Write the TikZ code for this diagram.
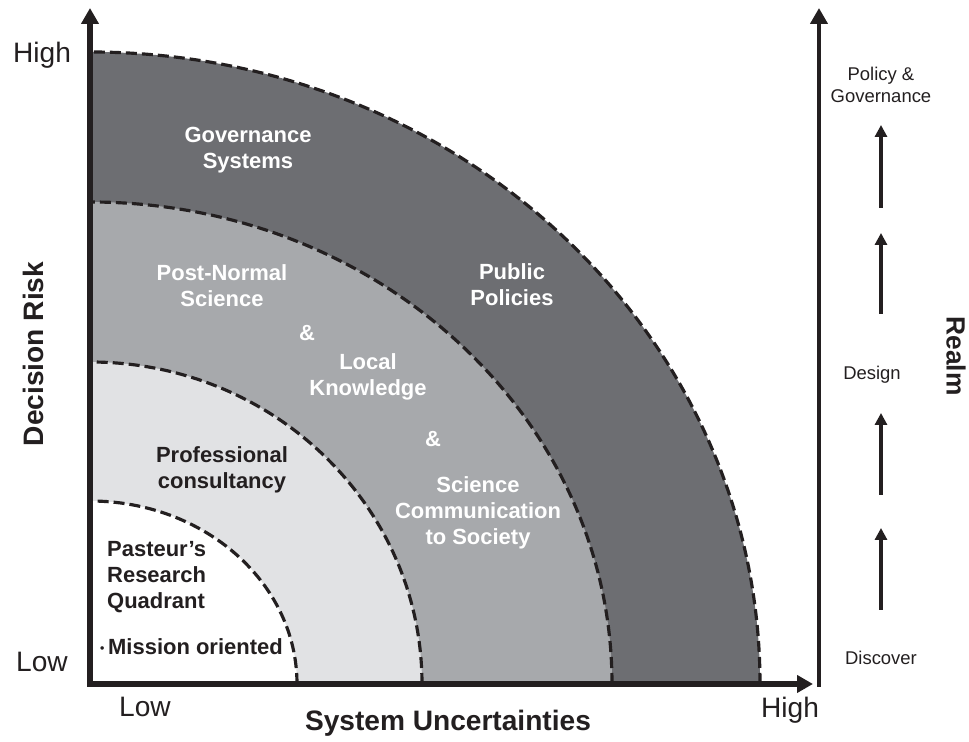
\documentclass[tikz,border=0pt]{standalone}
\usepackage{fontspec}
\setmainfont{Liberation Sans}
\usetikzlibrary{arrows.meta,positioning}
\definecolor{Ink}{HTML}{231F20}
\definecolor{Outer}{HTML}{6D6E72}
\definecolor{Middle}{HTML}{A7A9AC}
\definecolor{Inner}{HTML}{E1E2E4}

\begin{document}
\begin{tikzpicture}[x=0.2mm,y=0.2mm,>=Stealth,
  zone/.style={font=\bfseries\fontsize{12.5}{14.8}\selectfont,align=center},
  axislabel/.style={font=\fontsize{16}{19}\selectfont,text=Ink},
  axistitle/.style={font=\bfseries\fontsize{16}{19}\selectfont,text=Ink},
  realmlabel/.style={font=\fontsize{10.5}{12.6}\selectfont,align=center,text=Ink},
  band/.style={Ink,line width=1.8pt,dash pattern=on 2.2mm off 1mm}]
\useasboundingbox (-90,-58) rectangle (879,684);
% quarter bands, largest first
\foreach \rx/\ry/\c in {670/632/Outer,522/482/Middle,332/322/Inner,207/183/white}{
 \fill[\c] (0,0) -- (\rx,0) arc[start angle=0,end angle=90,x radius=\rx,y radius=\ry] -- cycle;
 \draw[band] (\rx,0) arc[start angle=0,end angle=90,x radius=\rx,y radius=\ry];
}
% axes
\coordinate (O) at (0,0);
\coordinate (xend) at (723,0);
\coordinate (yend) at (0,676);
\coordinate (rbot) at (729,-3);
\coordinate (rtop) at (729,676);
\draw[Ink,line width=3.2pt,line join=miter,
 {Triangle[length=3.2mm,width=3.4mm]}-{Triangle[length=3.2mm,width=3.4mm]}]
 (yend) -- (O) -- (xend);
\draw[Ink,line width=2.8pt,-{Triangle[length=3.2mm,width=3.4mm]}] (rbot) -- (rtop);

% axis labels
\node[axislabel] (yhigh) at (-48,629) {High};
\node[axislabel] (ylow) at (-48,22) {Low};
\node[axislabel] (xlow) at (55,-23) {Low};
\node[axislabel] (xhigh) at (700,-26) {High};
\node[axistitle] (xtitle) at (358,-39) {System Uncertainties};
\node[axistitle,rotate=90] (ytitle) at (-57,330) {Decision Risk};
\node[axistitle,font=\bfseries\fontsize{15}{18}\selectfont,rotate=-90] (realm) at (866,328) {Realm};

% realm steps
\node[realmlabel] (policy) at (791,599) {Policy \&\\Governance};
\node[realmlabel] (design) at (782,309) {Design};
\node[realmlabel] (discover) at (791,26) {Discover};
\foreach \a/\b [count=\i] in {74/156,189/271,370/451,476/559}{
 \coordinate (s\i) at (791,\a);
 \coordinate (t\i) at (791,\b);
 \draw[Ink,line width=2pt,-{Triangle[length=2.4mm,width=2.4mm]}] (s\i) -- (t\i);
}

% band labels
\node[zone,text=white] (gov) at (158,534) {Governance\\Systems};
\node[zone,text=white] (public) at (422,399) {Public\\Policies};
\node[zone,text=white] (pns) at (132,398) {Post-Normal\\Science};
\node[zone,text=white] (amp1) at (217,351) {\&};
\node[zone,text=white] (local) at (278,307) {Local\\Knowledge};
\node[zone,text=white] (amp2) at (343,245) {\&};
\node[zone,text=white] (scicom) at (388,171) {Science\\Communication\\to Society};
\node[zone,text=Ink] (prof) at (132,214) {Professional\\consultancy};
\node[zone,text=Ink,align=left,anchor=west] (pasteur) at (11,107) {Pasteur’s\\Research\\Quadrant};
\node[zone,text=Ink,anchor=west] (mission) at (4,37)
 {\raisebox{0.12em}{\fontsize{7}{8}\selectfont\textbullet}\,Mission oriented};
\end{tikzpicture}
\end{document}
